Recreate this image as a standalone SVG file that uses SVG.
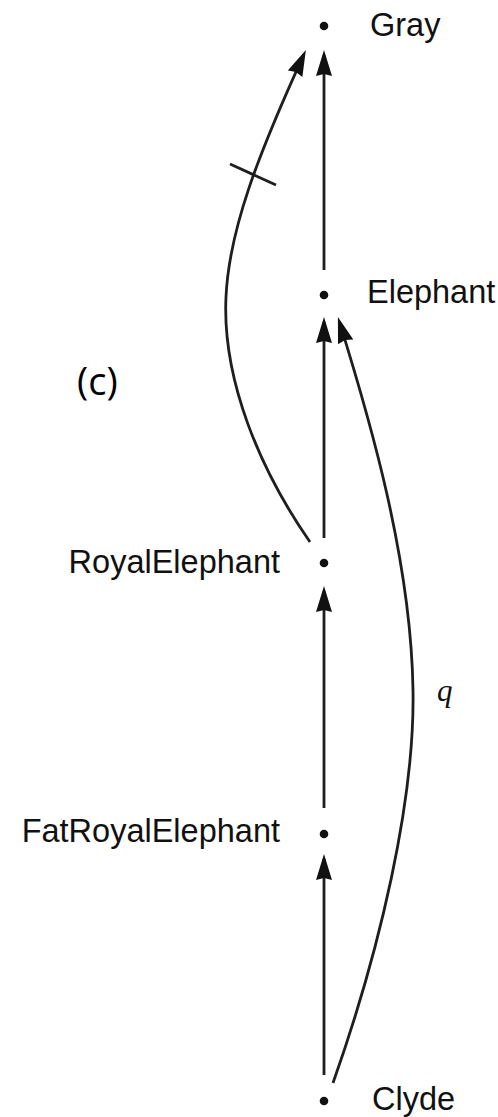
<svg xmlns="http://www.w3.org/2000/svg" width="498" height="1117" viewBox="0 0 498 1117">
<style>
.lbl{font-family:"Liberation Sans",Arial,sans-serif;font-size:32.5px;fill:#111}
.edge{fill:none;stroke:#1e1e1e;stroke-width:2.8}
.dot{fill:#111}
</style>
<defs>
<marker id="ah" markerUnits="userSpaceOnUse" markerWidth="30" markerHeight="18" refX="21" refY="8" orient="auto">
<path d="M0,0 L26,8 L0,16 L2,8 z" fill="#111"/>
</marker>
</defs>
<rect width="498" height="1117" fill="#fff"/>
<g id="edges">
<path class="edge" d="M324,270 L324,55" marker-end="url(#ah)"/>
<path class="edge" d="M324,538 L324,322" marker-end="url(#ah)"/>
<path class="edge" d="M324,808 L324,591" marker-end="url(#ah)"/>
<path class="edge" d="M324,1075 L324,859" marker-end="url(#ah)"/>
<path class="edge" d="M310,542 C260,470 222,380 226,297 C229,230 258,155 303.8,54.6" marker-end="url(#ah)"/>
<line class="edge" x1="230" y1="164" x2="276" y2="185"/>
<path class="edge" d="M333,1083 C380,950 415,800 413,690 C411,560 370,420 339.4,321.8" marker-end="url(#ah)"/>
<text x="437" y="701" style="font-family:'Liberation Serif','Times New Roman',serif;font-style:italic;font-size:31px;fill:#111">q</text>
</g>
<g id="gray"><circle class="dot" cx="324" cy="26" r="4.3"/><text class="lbl" x="370" y="36">Gray</text></g>
<g id="elephant"><circle class="dot" cx="324" cy="295" r="4.3"/><text class="lbl" x="367" y="303">Elephant</text></g>
<g id="royal"><circle class="dot" cx="324" cy="563" r="4.3"/><text class="lbl" x="280" y="573" text-anchor="end">RoyalElephant</text></g>
<g id="fat"><circle class="dot" cx="324" cy="834" r="4.3"/><text class="lbl" x="280" y="842" text-anchor="end">FatRoyalElephant</text></g>
<g id="clyde"><circle class="dot" cx="324" cy="1101" r="4.3"/><text class="lbl" x="372" y="1110">Clyde</text></g>
<text x="77" y="395" style="font-family:'Open Sans','Noto Sans',sans-serif;font-size:38px;fill:#000">(c)</text>
</svg>
